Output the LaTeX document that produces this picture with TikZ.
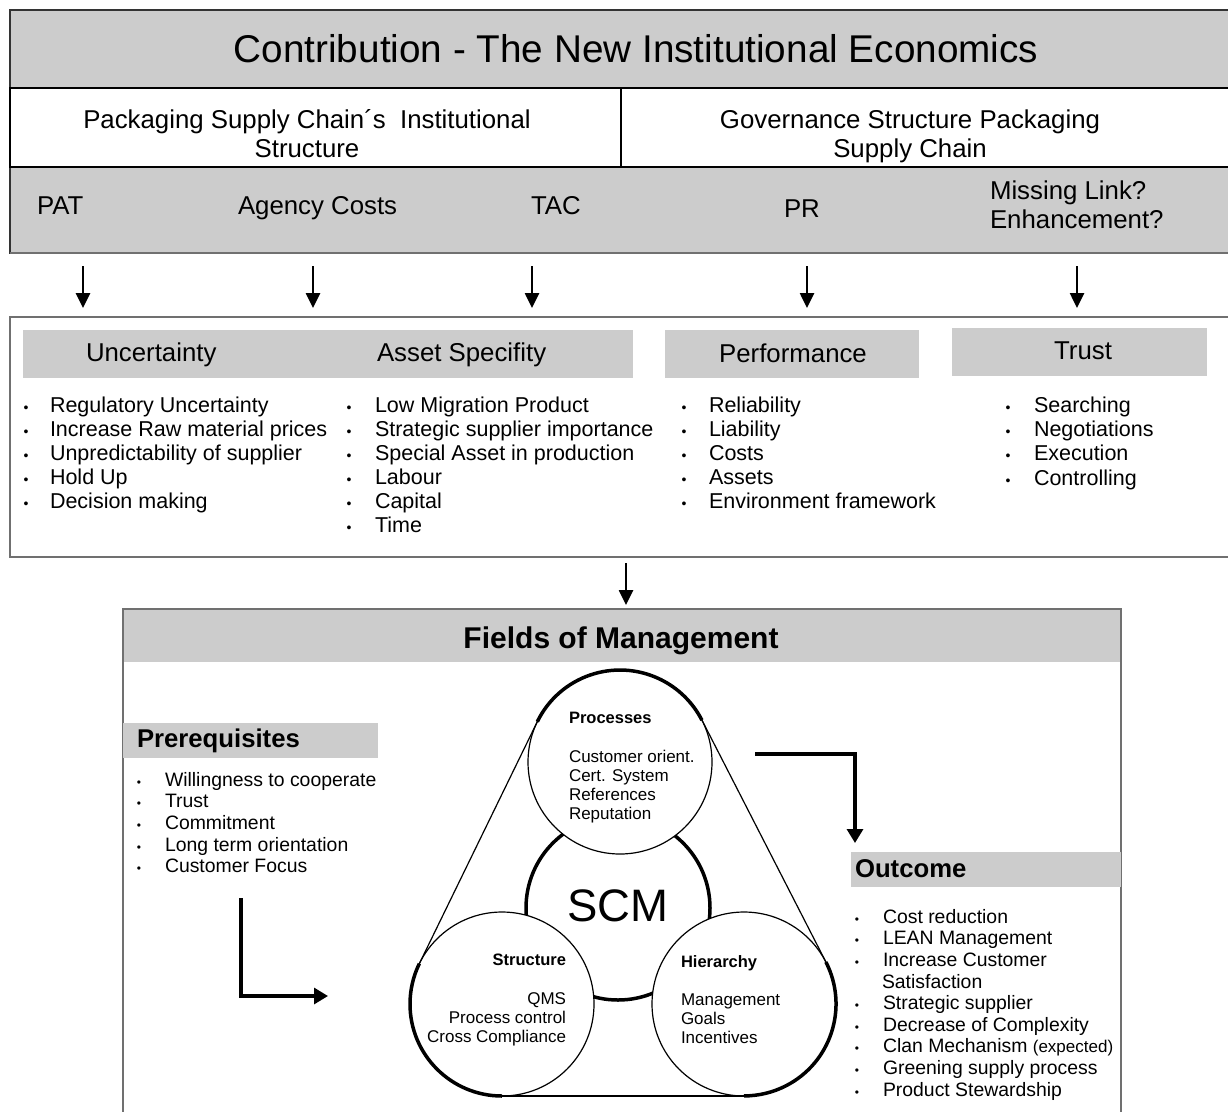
\documentclass[tikz,border=0pt]{standalone}
\usepackage{fontspec}
\setmainfont{Liberation Sans}
\usetikzlibrary{arrows.meta}
\definecolor{gfill}{HTML}{CCCCCC}
\definecolor{gline}{HTML}{707070}
\definecolor{dline}{HTML}{333333}
\newcommand\myfs[1]{\fontsize{#1}{#1}\selectfont}
\begin{document}
\begin{tikzpicture}[x=1pt,y=-1pt,
  t/.style={inner sep=0pt,outer sep=0pt,anchor=base west},
  tc/.style={inner sep=0pt,outer sep=0pt,anchor=base},
  tr/.style={inner sep=0pt,outer sep=0pt,anchor=base east},
  bul/.style={inner sep=0pt,outer sep=0pt,anchor=base,font=\myfs{14}},
  bulb/.style={inner sep=0pt,outer sep=0pt,anchor=base,font=\myfs{12}},
  arr/.style={line width=2.6pt,-{Triangle[length=15pt,width=14pt]}},
  larr/.style={line width=3.2pt,-{Triangle[length=14pt,width=16pt]}},
  ring/.style={line width=3.5pt},
  thinl/.style={line width=1.2pt},
  circ/.style={circle,draw,fill=white,line width=1.2pt,minimum size=184pt,inner sep=0pt}
]
\useasboundingbox (0,0) rectangle (1228,1111);
\fill[white] (0,0) rectangle (1228,1111);

% ---------- top block ----------
\path[fill=gfill,draw=dline,line width=1.2pt] (10,10) rectangle (1240,253);
\draw[gline,line width=1.5pt] (10,253) -- (1240,253);
\path[fill=white,draw=black,line width=2.5pt] (10,88) rectangle (1240,167);
\draw[line width=2pt] (621,88) -- (621,167);

\node[tc,font=\myfs{38.7}] (title) at (636,62) {Contribution - The New Institutional Economics};
\node[tc,font=\myfs{25.8}] (inst1) at (307,128) {Packaging Supply Chain´s\ \ Institutional};
\node[tc,font=\myfs{25.8}] (inst2) at (307,157) {Structure};
\node[tc,font=\myfs{25.8}] (gov1) at (910,128) {Governance Structure Packaging};
\node[tc,font=\myfs{25.8}] (gov2) at (910,157) {Supply Chain};
\node[t,font=\myfs{25.8}] (pat) at (37,214) {PAT};
\node[t,font=\myfs{25.8}] (agency) at (238,214) {Agency Costs};
\node[t,font=\myfs{25.8}] (tac) at (531,214) {TAC};
\node[t,font=\myfs{25.8}] (pr) at (784,217) {PR};
\node[t,font=\myfs{25.8}] (ml1) at (990,199) {Missing Link?};
\node[t,font=\myfs{25.8}] (ml2) at (990,228) {Enhancement?};

\foreach \n/\x in {a1/83,a2/313,a3/532,a4/807,a5/1077}{
  \coordinate (\n s) at (\x,266);
  \coordinate (\n e) at (\x,308);
  \draw[arr] (\n s) -- (\n e);
}

% ---------- middle block ----------
\path[fill=white,draw=gline,line width=1.5pt] (10,317) rectangle (1240,557);
\fill[gfill] (23,330) rectangle (633,378);
\fill[gfill] (665,330) rectangle (919,378);
\fill[gfill] (952,328) rectangle (1207,376);
\node[t,font=\myfs{25.8}] (hunc) at (86,361) {Uncertainty};
\node[t,font=\myfs{25.8}] (hasset) at (377,361) {Asset Specifity};
\node[tc,font=\myfs{25.8}] (hperf) at (793,362) {Performance};
\node[tc,font=\myfs{25.8}] (htrust) at (1083,359) {Trust};

\foreach \s [count=\i from 0] in {Regulatory Uncertainty,Increase Raw material prices,Unpredictability of supplier,Hold Up,Decision making}{
  \node[bul] (ub\i) at (26,412+24*\i) {•};
  \node[t,font=\myfs{21.5}] (u\i) at (50,412+24*\i) {\s};
}
\foreach \s [count=\i from 0] in {Low Migration Product,Strategic supplier importance,Special Asset in production,Labour,Capital,Time}{
  \node[bul] (ab\i) at (349,412+24*\i) {•};
  \node[t,font=\myfs{21.5}] (as\i) at (375,412+24*\i) {\s};
}
\foreach \s [count=\i from 0] in {Reliability,Liability,Costs,Assets,Environment framework}{
  \node[bul] (pb\i) at (684,412+24.2*\i) {•};
  \node[t,font=\myfs{21.5}] (pf\i) at (709,412+24.2*\i) {\s};
}
\foreach \s [count=\i from 0] in {Searching,Negotiations,Execution,Controlling}{
  \node[bul] (tb\i) at (1008,412+24.4*\i) {•};
  \node[t,font=\myfs{21.5}] (tr\i) at (1034,412+24.4*\i) {\s};
}

\coordinate (m1) at (626,563);
\coordinate (m2) at (626,605);
\draw[arr] (m1) -- (m2);

% ---------- lower block ----------
\fill[gfill] (123,609) rectangle (1121,662);
\draw[gline,line width=1.5pt] (123,1120) -- (123,609) -- (1121,609) -- (1121,1120);
\node[tc,font=\bfseries\myfs{30}] (fields) at (621,648) {Fields of Management};

\fill[gfill] (123,723) rectangle (378,758);
\node[t,font=\bfseries\myfs{25.7}] (prereq) at (137,747) {Prerequisites};
\foreach \s [count=\i from 0] in {Willingness to cooperate,Trust,Commitment,Long term orientation,Customer Focus}{
  \node[bulb] (qb\i) at (139,786+21.7*\i) {•};
  \node[t,font=\myfs{19.4}] (q\i) at (165,786+21.7*\i) {\s};
}

\fill[gfill] (851,852) rectangle (1121,887);
\node[t,font=\bfseries\myfs{25.7}] (outcome) at (855,877) {Outcome};
\foreach \s/\k in {Cost reduction/0,LEAN Management/1,Increase Customer/2,Strategic supplier/4,Decrease of Complexity/5,{Clan Mechanism {\myfs{17}(expected)}}/6,Greening supply process/7,Product Stewardship/8}{
  \node[bulb] (ob\k) at (857,923.3+21.6*\k) {•};
  \node[t,font=\myfs{19.4}] (o\k) at (883,923.3+21.6*\k) {\s};
}
\node[t,font=\myfs{19.4}] (o3) at (882,923.3+21.6*3) {Satisfaction};

\coordinate (pa1) at (241,898);
\coordinate (pa2) at (328,996);
\draw[larr] (pa1) |- (pa2);
\coordinate (oa1) at (755,754);
\coordinate (oa2) at (855,843);
\draw[larr] (oa1) -| (oa2);

% ---------- SCM diagram ----------
\node[circle,draw,fill=white,line width=3.5pt,minimum size=184pt,inner sep=0pt] (scmc) at (618,908) {};
\node[circ] (procc) at (620,762) {};
\node[circ] (strc) at (502,1004) {};
\node[circ] (hierc) at (744,1004) {};

\draw[ring] (537.3,721.7) arc[start angle=206,end angle=332.9,radius=92];
\draw[thinl] (701.9,720.0) -- (825.9,962.0);
\draw[ring] (825.9,962.0) arc[start angle=-27.1,end angle=90,radius=92];
\draw[line width=1.6pt] (744,1096) -- (502,1096);
\draw[ring] (502,1096) arc[start angle=90,end angle=206,radius=92];
\draw[thinl] (419.3,963.7) -- (537.3,721.7);

\node[tc,font=\myfs{45.5}] (scm) at (618,921.7) {SCM};

\node[t,font=\bfseries\myfs{16.5}] (proch) at (569,723.3) {Processes};
\foreach \s [count=\i from 0] in {Customer orient.,Cert. System,References,Reputation}{
  \node[t,font=\myfs{17}] (proc\i) at (569,762.3+19*\i) {\s};
}
\node[tr,font=\bfseries\myfs{16.5}] (struh) at (566,965.7) {Structure};
\foreach \s [count=\i from 0] in {QMS,Process control,Cross Compliance}{
  \node[tr,font=\myfs{17}] (stru\i) at (566,1004+19.4*\i) {\s};
}
\node[t,font=\bfseries\myfs{16.5}] (hierh) at (681,967.3) {Hierarchy};
\foreach \s [count=\i from 0] in {Management,Goals,Incentives}{
  \node[t,font=\myfs{17}] (hier\i) at (681,1005+19*\i) {\s};
}
\end{tikzpicture}
\end{document}
